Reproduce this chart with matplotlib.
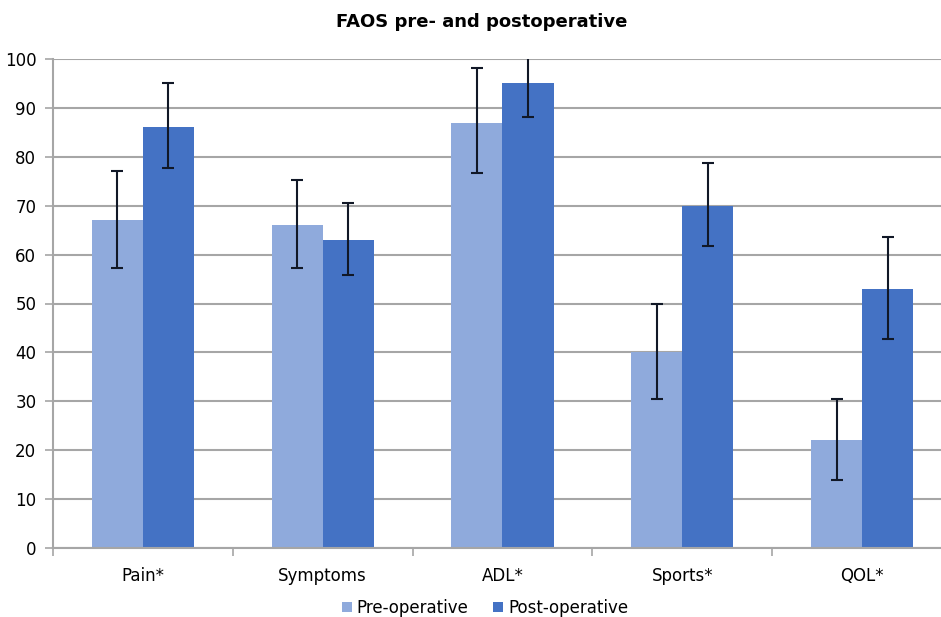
import numpy as np
import matplotlib.pyplot as plt

categories = ["Pain*", "Symptoms", "ADL*", "Sports*", "QOL*"]
pre = [67, 66, 87, 40, 22]
pre_err_low = [57.3, 57.3, 76.6, 30.5, 14.0]
pre_err_high = [77.1, 75.3, 98.1, 49.9, 30.5]
post = [86, 63, 95, 70, 53]
post_err_low = [77.8, 55.9, 88.2, 61.8, 42.8]
post_err_high = [95.0, 70.6, 101.8, 78.8, 63.6]

plt.rcParams['font.family'] = ['Liberation Sans Narrow', 'DejaVu Sans']

fig = plt.figure(figsize=(9.41, 6.17), dpi=100)
ax = fig.add_axes([53 / 941, 69 / 617, 899 / 941, 489 / 617])

x = np.arange(len(categories))
w = 0.284
pre_c = "#8FAADC"
post_c = "#4472C4"

pre_yerr = [np.array(pre) - np.array(pre_err_low), np.array(pre_err_high) - np.array(pre)]
post_yerr = [np.array(post) - np.array(post_err_low), np.array(post_err_high) - np.array(post)]

ax.bar(x - w / 2, pre, w, color=pre_c, label="Pre-operative", zorder=2)
ax.bar(x + w / 2, post, w, color=post_c, label="Post-operative", zorder=2)
ax.errorbar(x - w / 2, pre, yerr=pre_yerr, fmt="none", ecolor="#111827",
            elinewidth=1.5, capsize=4, capthick=1.5, zorder=3)
ax.errorbar(x + w / 2, post, yerr=post_yerr, fmt="none", ecolor="#111827",
            elinewidth=1.5, capsize=4, capthick=1.5, zorder=3)

ax.set_xlim(-0.5, len(categories) - 0.5)
ax.set_ylim(0, 100)
ax.set_yticks(range(0, 101, 10))
ax.yaxis.grid(True, color="#A6A6A6", linewidth=1.5, zorder=0)
ax.set_axisbelow(True)

ax.set_xticks(x)
ax.set_xticklabels(categories, fontsize=12)
ax.tick_params(axis="x", length=0, pad=14)
ax.set_xticks(np.arange(-0.5, len(categories), 1), minor=True)
ax.tick_params(axis="x", which="minor", length=6, color="#A6A6A6", width=1.2)
ax.tick_params(axis="y", length=6, color="#A6A6A6", width=1.2, labelsize=12, pad=6)

for s in ["top", "right"]:
    ax.spines[s].set_visible(False)
for s in ["left", "bottom"]:
    ax.spines[s].set_color("#A6A6A6")
    ax.spines[s].set_linewidth(1.5)

fig.text(482 / 941, 1 - 22 / 617, "FAOS pre- and postoperative", ha="center",
         va="center", fontsize=13, fontweight="bold")

fig.legend(loc="center", bbox_to_anchor=(485 / 941, 1 - 608 / 617), ncol=2,
           frameon=False, fontsize=12, handlelength=0.6, handleheight=0.6,
           handletextpad=0.3, columnspacing=1.5)

fig.savefig("out.png", dpi=100)
